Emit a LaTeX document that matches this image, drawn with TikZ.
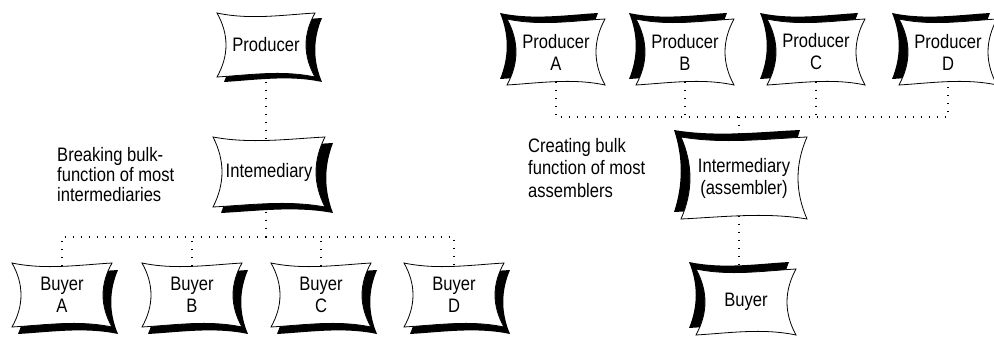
\documentclass[tikz,border=0pt]{standalone}
\usepackage{fontspec}
\setmainfont[FakeStretch=0.85]{Liberation Sans}

\tikzset{
  % outline of a cushion round the origin: half width, half height, side bulge
  pillowline/.style n args={3}{insert path={
    (-#1,-#2) .. controls ({-#1/3},{-#2+7}) and ({#1/3},{-#2+2}) .. (#1,-#2)
    .. controls ({#1-#3},{-#2/3}) and ({#1-#3},{#2/3}) .. (#1,#2)
    .. controls ({#1/3},{#2-7}) and ({-#1/3},{#2-2}) .. (-#1,#2)
    .. controls ({-#1+#3},{#2/3}) and ({-#1+#3},{-#2/3}) .. cycle}},
  boxtext/.style={align=center, inner sep=0pt, font=\fontsize{19.5}{22}\selectfont},
  note/.style={align=left, inner sep=0pt, anchor=north west},
  dotlink/.style={line width=1.4pt, dash pattern=on 1.4pt off 6.6pt}
}

% name, centre, half width, half height, shadow shift, text
\newcommand{\pillow}[6]{%
  \begin{scope}[shift={(#2)}]
    \fill[black, shift={(#5)}] [pillowline={#3}{#4}{9}];
    \filldraw[fill=white, draw=black, line width=0.8pt] [pillowline={#3}{#4}{12}];
  \end{scope}
  \node[boxtext, minimum width=2*#3pt, minimum height=2*#4pt-7pt] (#1) at (#2) {#6};
}

\begin{document}
\begin{tikzpicture}[x=1pt, y=-1pt]
  \useasboundingbox (0,0) rectangle (994,339);
  % breaking bulk: one producer, four buyers
  \pillow{prod}{266,45}{49}{32}{7,5}{Producer}
  \pillow{inter}{269,172}{56}{35}{8,6}{Intemediary}
  \pillow{bA}{62,295}{50}{32}{6,7}{Buyer\\A}
  \pillow{bB}{192,295}{50}{32}{6,7}{Buyer\\B}
  \pillow{bC}{321,295}{50}{32}{6,7}{Buyer\\C}
  \pillow{bD}{454,295}{50}{32}{6,7}{Buyer\\D}
  \node[note, font=\fontsize{19.5}{20}\selectfont] (leftnote) at (57,147)
    {Breaking bulk-\\function of most\\intermediaries};
  \coordinate (lbus) at (266,237);
  \draw[dotlink] (prod) -- (prod.south |- inter.north);
  \draw[dotlink] (inter.south -| lbus) -- (lbus);
  \draw[dotlink] (bA.north) |- (lbus) -| (bD.north);
  \draw[dotlink] (bB.north) -- (bB.north |- lbus);
  \draw[dotlink] (bC.north) -- (bC.north |- lbus);
  % creating bulk: four producers, one buyer
  \pillow{pA}{556,52}{49}{33}{-7,-6}{Producer\\A}
  \pillow{pB}{685,52}{49}{33}{-7,-6}{Producer\\B}
  \pillow{pC}{816,52}{49}{33}{-7,-6}{Producer\\C}
  \pillow{pD}{948,52}{49}{33}{-7,-6}{Producer\\D}
  \pillow{rinter}{744,178}{63}{41}{-7,-7}{Intermediary\\(assembler)}
  \pillow{rbuyer}{746,302}{50}{33}{-7,-7}{Buyer}
  \node[note, font=\fontsize{19.5}{22.5}\selectfont] (rightnote) at (528,138)
    {Creating bulk\\function of most\\assemblers};
  \coordinate (rbus) at (739,117);
  \draw[dotlink] (pA.south) |- (rbus) -| (pD.south);
  \draw[dotlink] (pB.south) -- (pB.south |- rbus);
  \draw[dotlink] (pC.south) -- (pC.south |- rbus);
  \draw[dotlink] (rbus) -- (rbus |- rinter.north);
  \draw[dotlink] (rinter.south -| rbus) -- (rbus |- rbuyer.north);
\end{tikzpicture}
\end{document}
